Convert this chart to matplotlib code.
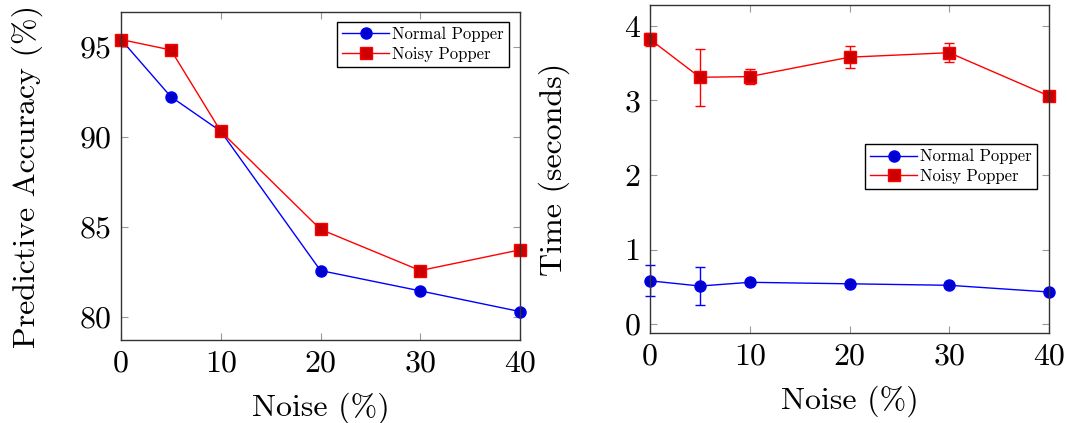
"""
Predictive accuracy and learning time of Normal vs Noisy Popper under noise.
"""

import matplotlib
matplotlib.use("Agg")
import matplotlib.pyplot as plt

noise = [0, 5, 10, 20, 30, 40]

acc_normal = [95.4, 92.22, 90.3, 82.56, 81.43, 80.28]
acc_noisy = [95.4, 94.82, 90.3, 84.85, 82.56, 83.71]

time_normal = [0.58, 0.51, 0.56, 0.54, 0.52, 0.43]
time_normal_err = [0.21, 0.26, 0.02, 0.0, 0.0, 0.0]
time_noisy = [3.82, 3.31, 3.32, 3.58, 3.64, 3.06]
time_noisy_err = [0.09, 0.38, 0.10, 0.15, 0.13, 0.03]

x_ticks = [0, 10, 20, 30, 40]
acc_ticks = [80, 85, 90, 95]
time_ticks = [0, 1, 2, 3, 4]

plt.rcParams["font.family"] = ["cmr10", "DejaVu Serif"]
plt.rcParams["mathtext.fontset"] = "cm"
plt.rcParams["axes.unicode_minus"] = False

W, H = 1067, 423
fig = plt.figure(figsize=(W / 100, H / 100), dpi=100)


def px_axes(left, top, right, bottom):
    return fig.add_axes([left / W, 1 - bottom / H, (right - left) / W, (bottom - top) / H])


def style(ax):
    for s in ax.spines.values():
        s.set_color("#333333")
        s.set_linewidth(1.0)
    ax.tick_params(direction="in", length=5, width=0.8, color="#999999",
                   top=True, right=True, labelsize=23, pad=7)
    ax.set_xlim(0, 40)
    ax.set_xticks(x_ticks)
    ax.set_xlabel("Noise (%)", fontsize=23, labelpad=11)


def add_legend(ax, handles, anchor):
    leg = ax.legend(handles=handles, loc="upper right", bbox_to_anchor=anchor, fontsize=12,
                    fancybox=False, edgecolor="black", framealpha=1, handlelength=2.8,
                    borderpad=0.3, labelspacing=0.25, handletextpad=0.2, borderaxespad=0)
    leg.get_frame().set_linewidth(1.0)


normal_style = dict(color="blue", marker="o", markersize=8, markerfacecolor=(0, 0, 0.8),
                    markeredgecolor="blue", linewidth=1.0, label="Normal Popper")
noisy_style = dict(color="red", marker="s", markersize=8, markerfacecolor=(0.8, 0, 0),
                   markeredgecolor="red", linewidth=1.0, label="Noisy Popper")

# left: accuracy
ax1 = px_axes(121, 12, 520, 340)
l1, = ax1.plot(noise, acc_normal, **normal_style)
l2, = ax1.plot(noise, acc_noisy, **noisy_style)
ax1.set_ylim(78.7, 96.93)
ax1.set_yticks(acc_ticks)
ax1.set_ylabel("Predictive Accuracy (%)", fontsize=23, labelpad=26)
style(ax1)
add_legend(ax1, [l1, l2], (0.972, 0.97))

# right: time
ax2 = px_axes(650, 5, 1049, 333)
ax2.errorbar(noise, time_normal, yerr=time_normal_err, fmt="none", ecolor="blue",
             capsize=3.6, elinewidth=1.0, capthick=1.0)
ax2.errorbar(noise, time_noisy, yerr=time_noisy_err, fmt="none", ecolor="red",
             capsize=3.6, elinewidth=1.0, capthick=1.0)
r1, = ax2.plot(noise, time_normal, **normal_style)
r2, = ax2.plot(noise, time_noisy, **noisy_style)
ax2.set_ylim(-0.12, 4.28)
ax2.set_yticks(time_ticks)
ax2.set_ylabel("Time (seconds)", fontsize=23, labelpad=39)
style(ax2)
add_legend(ax2, [r1, r2], (0.97, 0.576))

for ax in (ax1, ax2):
    for line in ax.lines:
        line.set_clip_on(False)

fig.savefig("out.png", dpi=100)
